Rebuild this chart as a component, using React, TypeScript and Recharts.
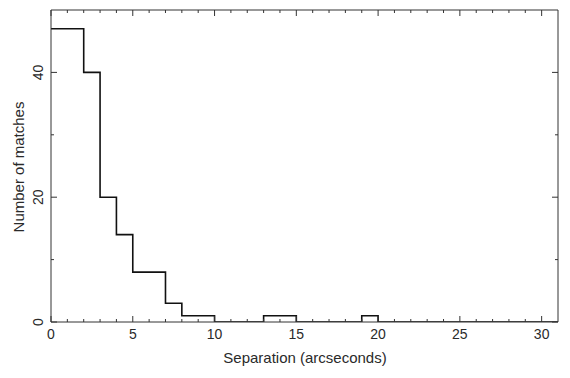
import React from 'react';
import { ComposedChart, Line, XAxis, YAxis } from 'recharts';

const binStarts = [0, 2, 3, 4, 5, 7, 8, 10, 13, 15, 19, 20, 31];
const counts = [47, 40, 20, 14, 8, 3, 1, 0, 1, 0, 1, 0, 0];
const xTicks = [0, 1, 2, 3, 4, 5, 6, 7, 8, 9, 10, 11, 12, 13, 14, 15, 16, 17, 18, 19, 20, 21, 22, 23, 24, 25, 26, 27, 28, 29, 30];
const xMajor = [0, 5, 10, 15, 20, 25, 30];
const yTicks = [0, 10, 20, 30, 40];
const yMajor = [0, 20, 40];
const xLabel = 'Separation (arcseconds)';
const yLabel = 'Number of matches';

const data = binStarts.map((s, i) => ({ x: s, count: counts[i] }));

const INK = '#111';
const FRAME = '#333';
const TEXT = '#2a2a2a';
const FONT = '"Liberation Sans", Arial, sans-serif';

const BottomTick = (p: any) => {
  const { x, y, payload } = p;
  const v = payload.value;
  const major = xMajor.includes(v);
  return (
    <g>
      <line x1={x} x2={x} y1={y} y2={y - (major ? 6 : 3)} stroke={FRAME} strokeWidth={1} />
      {major && (
        <text x={x} y={y + 17} textAnchor="middle" fontSize={14} fontFamily={FONT} fill={TEXT}>
          {v}
        </text>
      )}
    </g>
  );
};

const TopTick = (p: any) => {
  const { x, y, payload } = p;
  const major = xMajor.includes(payload.value);
  return <line x1={x} x2={x} y1={y} y2={y + (major ? 6 : 3)} stroke={FRAME} strokeWidth={1} />;
};

const LeftTick = (p: any) => {
  const { x, y, payload } = p;
  const v = payload.value;
  const major = yMajor.includes(v);
  const tx = x - 8;
  return (
    <g>
      <line x1={x} x2={x + (major ? 6 : 3)} y1={y} y2={y} stroke={FRAME} strokeWidth={1} />
      {major && (
        <text x={tx} y={y} transform={`rotate(-90 ${tx} ${y})`} textAnchor="middle" fontSize={14} fontFamily={FONT} fill={TEXT}>
          {v}
        </text>
      )}
    </g>
  );
};

const RightTick = (p: any) => {
  const { x, y, payload } = p;
  const major = yMajor.includes(payload.value);
  return <line x1={x} x2={x - (major ? 6 : 3)} y1={y} y2={y} stroke={FRAME} strokeWidth={1} />;
};

export default function App() {
  return (
    <div style={{ position: 'absolute', left: 0, top: 0, width: 570, height: 378, background: '#fff' }}>
      <ComposedChart width={570} height={378} data={data} margin={{ top: 0, right: 2, bottom: 26, left: 21 }}>
        <XAxis xAxisId="b" dataKey="x" type="number" domain={[0, 31]} ticks={xTicks} interval={0} height={30}
          tickSize={0} tickMargin={0} tickLine={false} axisLine={{ stroke: FRAME }} tick={BottomTick} allowDataOverflow />
        <XAxis xAxisId="t" orientation="top" dataKey="x" type="number" domain={[0, 31]} ticks={xTicks} interval={0} height={10}
          tickSize={0} tickMargin={0} tickLine={false} axisLine={{ stroke: FRAME }} tick={TopTick} allowDataOverflow />
        <YAxis yAxisId="l" type="number" domain={[0, 50]} ticks={yTicks} interval={0} width={30}
          tickSize={0} tickMargin={0} tickLine={false} axisLine={{ stroke: FRAME }} tick={LeftTick} allowDataOverflow />
        <YAxis yAxisId="r" orientation="right" type="number" domain={[0, 50]} ticks={yTicks} interval={0} width={10}
          tickSize={0} tickMargin={0} tickLine={false} axisLine={{ stroke: FRAME }} tick={RightTick} allowDataOverflow />
        <Line xAxisId="b" yAxisId="l" type="stepAfter" dataKey="count" stroke={INK} strokeWidth={1.6} dot={false} isAnimationActive={false} />
        <Line xAxisId="t" yAxisId="r" type="stepAfter" dataKey="count" stroke="none" dot={false} isAnimationActive={false} legendType="none" />
      </ComposedChart>
      <div style={{ position: 'absolute', left: 305, top: 357, transform: 'translate(-50%, -50%)', fontFamily: FONT, fontSize: 15, color: TEXT, whiteSpace: 'nowrap' }}>
        {xLabel}
      </div>
      <div style={{ position: 'absolute', left: 18, top: 167, transform: 'translate(-50%, -50%) rotate(-90deg)', fontFamily: FONT, fontSize: 15, color: TEXT, whiteSpace: 'nowrap' }}>
        {yLabel}
      </div>
    </div>
  );
}
